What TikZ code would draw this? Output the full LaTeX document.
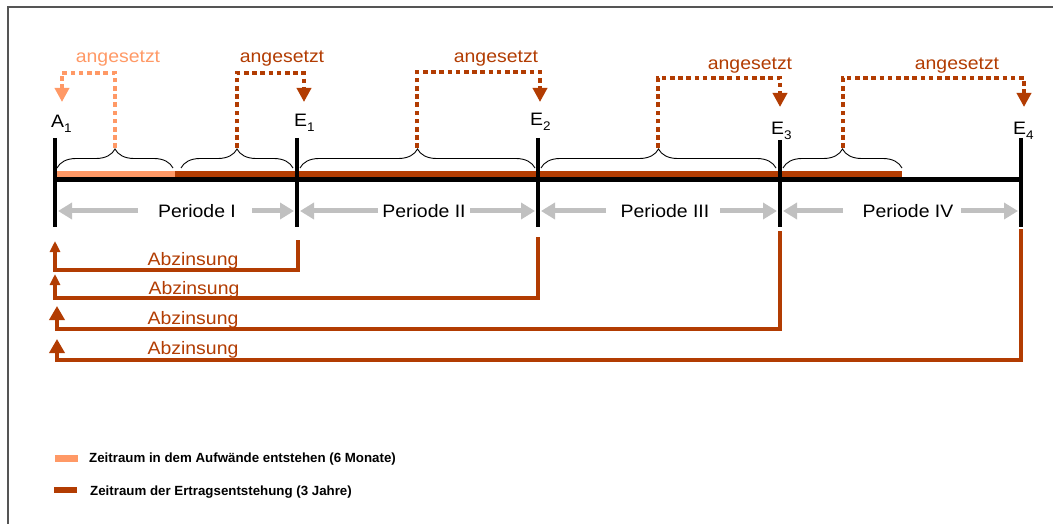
\documentclass[tikz,border=0pt]{standalone}
\usepackage{fontspec}
\setmainfont{Liberation Sans}
\usetikzlibrary{arrows.meta,decorations.pathreplacing,calc}
\definecolor{brn}{RGB}{178,60,2}
\definecolor{lor}{RGB}{255,153,102}
\definecolor{gry}{RGB}{192,192,192}
\definecolor{frm}{RGB}{85,85,85}
\newcommand\lowidx[1]{\raisebox{-4.5pt}{\fontsize{12.5}{12.5}\selectfont #1}}
\begin{document}
\begin{tikzpicture}[x=1pt,y=-1pt,
  txt/.style={font=\fontsize{18}{20}\selectfont, inner sep=0pt, xscale=1.08},
  legtxt/.style={font=\fontsize{13.3}{15}\selectfont\bfseries, inner sep=0pt, anchor=base west},
  tick/.style={line width=4.8pt, black},
  brc/.style={decorate, decoration={brace, amplitude=19pt}, line width=0.9pt, black},
  dots/.style={line width=4.6pt, dash pattern=on 4.6pt off 3.6pt,
    -{Triangle[length=14pt,width=14pt]}},
  parr/.style={line width=5pt, gry, -{Triangle[length=14pt,width=16pt]}},
  abzthin/.style={line width=3.2pt, brn, -{Triangle[length=11pt,width=10pt]}},
  abzthick/.style={line width=4.8pt, brn, -{Triangle[length=14pt,width=15pt]}}]
\useasboundingbox (0,0) rectangle (1053,524);
% frame
\draw[frm, line width=2pt] (7.5,530) -- (7.5,7.5) -- (1060,7.5);

% tick coordinates
\coordinate (A1t) at (55,138);  \coordinate (A1b) at (55,227);
\coordinate (E1t) at (297,138); \coordinate (E1b) at (297,227);
\coordinate (E2t) at (538,138); \coordinate (E2b) at (538,227);
\coordinate (E3t) at (780,140); \coordinate (E3b) at (780,227);
\coordinate (E4t) at (1021,138);\coordinate (E4b) at (1021,227);

% bars and main line
\coordinate (L0) at (55,180); \coordinate (L1) at (1021,180);
\coordinate (o0) at (57,174.5); \coordinate (o1) at (175,174.5);
\coordinate (b1) at (902,174.5);
\draw[lor, line width=7pt] (o0) -- (o1);
\draw[brn, line width=7pt] (o1) -- (b1);
\draw[black, line width=5pt] (L0) -- (L1);

% ticks
\draw[tick] (A1t) -- (A1b);
\draw[tick] (E1t) -- (E1b);
\draw[tick] (E2t) -- (E2b);
\draw[tick] (E3t) -- (E3b);
\draw[tick] (E4t) -- (E4b);

% tick labels
\node[txt, anchor=base west] (lA1) at (51,128) {A\lowidx{1}};
\node[txt, anchor=base west] (lE1) at (294,127) {E\lowidx{1}};
\node[txt, anchor=base west] (lE2) at (530,126) {E\lowidx{2}};
\node[txt, anchor=base west] (lE3) at (771,135) {E\lowidx{3}};
\node[txt, anchor=base west] (lE4) at (1013,135) {E\lowidx{4}};

% braces
\coordinate (br1a) at (57,168);  \coordinate (br1b) at (173,168);
\coordinate (br2a) at (181,168); \coordinate (br2b) at (293,168);
\coordinate (br3a) at (300,168); \coordinate (br3b) at (535,168);
\coordinate (br4a) at (541,168); \coordinate (br4b) at (776,168);
\coordinate (br5a) at (783,168); \coordinate (br5b) at (902,168);
\draw[brc] (br1a) -- (br1b);
\draw[brc] (br2a) -- (br2b);
\draw[brc] (br3a) -- (br3b);
\draw[brc] (br4a) -- (br4b);
\draw[brc] (br5a) -- (br5b);

% angesetzt dotted arrows
\coordinate (d1s) at (115,148); \coordinate (d1e) at (62,102);
\coordinate (d2s) at (237,148); \coordinate (d2e) at (304,102);
\coordinate (d3s) at (417,148); \coordinate (d3e) at (540,102);
\coordinate (d4s) at (658,148); \coordinate (d4e) at (780,107);
\coordinate (d5s) at (843,148); \coordinate (d5e) at (1024,107);
\draw[dots, lor] (d1s) -- (115,73) -- (62,73) -- (d1e);
\draw[dots, brn] (d2s) -- (237,73) -- (304,73) -- (d2e);
\draw[dots, brn] (d3s) -- (417,72) -- (540,72) -- (d3e);
\draw[dots, brn] (d4s) -- (658,78) -- (780,78) -- (d4e);
\draw[dots, brn] (d5s) -- (843,78) -- (1024,78) -- (d5e);

\node[txt, lor, anchor=base] (a1) at (118,63) {angesetzt};
\node[txt, brn, anchor=base] (a2) at (282,63) {angesetzt};
\node[txt, brn, anchor=base] (a3) at (496,63) {angesetzt};
\node[txt, brn, anchor=base] (a4) at (750,70) {angesetzt};
\node[txt, brn, anchor=base] (a5) at (957,70) {angesetzt};

% periods
\node[txt, anchor=base] (p1) at (197,218) {Periode I};
\node[txt, anchor=base] (p2) at (424,218) {Periode II};
\node[txt, anchor=base] (p3) at (665,218) {Periode III};
\node[txt, anchor=base] (p4) at (908,218) {Periode IV};
\draw[parr] (138,211) -- (58,211);
\draw[parr] (252,211) -- (294,211);
\draw[parr] (378,211) -- (300,211);
\draw[parr] (470,211) -- (535,211);
\draw[parr] (606,211) -- (541,211);
\draw[parr] (720,211) -- (777,211);
\draw[parr] (843,211) -- (783,211);
\draw[parr] (961,211) -- (1018,211);

% Abzinsung
\coordinate (z1s) at (298,240); \coordinate (z1e) at (55,241);
\coordinate (z2s) at (538,237); \coordinate (z2e) at (55,274);
\coordinate (z3s) at (780,231); \coordinate (z3e) at (57,306);
\coordinate (z4s) at (1021,229);\coordinate (z4e) at (57,339);
\draw[abzthin] (z1s) -- (298,270) -- (55,270) -- (z1e);
\draw[abzthin] (z2s) -- (538,298) -- (55,298) -- (z2e);
\draw[abzthick] (z3s) -- (780,329) -- (57,329) -- (z3e);
\draw[abzthick] (z4s) -- (1021,360) -- (57,360) -- (z4e);
\node[txt, brn, anchor=base] (t1) at (193,265) {Abzinsung};
\node[txt, brn, anchor=base] (t2) at (194,294) {Abzinsung};
\node[txt, brn, anchor=base] (t3) at (193,324) {Abzinsung};
\node[txt, brn, anchor=base] (t4) at (193,354) {Abzinsung};

% legend
\coordinate (g1a) at (55,455); \coordinate (g1b) at (78,462);
\coordinate (g2a) at (54,487); \coordinate (g2b) at (77,493);
\fill[lor] (g1a) rectangle (g1b);
\fill[brn] (g2a) rectangle (g2b);
\node[legtxt] (lg1) at (89,462) {Zeitraum in dem Aufwände entstehen (6 Monate)};
\node[legtxt] (lg2) at (90,495) {Zeitraum der Ertragsentstehung (3 Jahre)};
\end{tikzpicture}
\end{document}
